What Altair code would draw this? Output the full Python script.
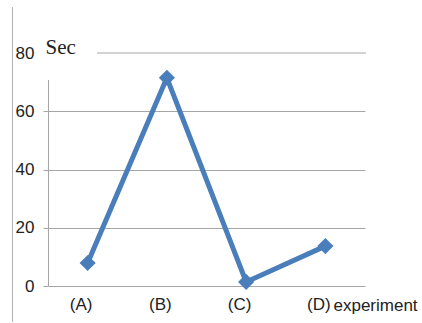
import altair as alt
import pandas as pd

categories = ["(A)", "(B)", "(C)", "(D)"]
values = [7.9, 71.5, 1.4, 13.7]
y_ticks = [0, 20, 40, 60, 80]
top_tick = [80]

df = pd.DataFrame({"cat": categories, "val": values})
top_df = pd.DataFrame({"v": top_tick})

GRID = "#a6a6a6"

x_enc = alt.X(
    "cat:N",
    sort=categories,
    scale=alt.Scale(paddingInner=0, paddingOuter=0),
    axis=alt.Axis(
        title="experiment",
        titleX=285,
        titleY=24,
        titleAlign="left",
        titleBaseline="alphabetic",
        titleFont="Liberation Sans",
        titleFontSize=17,
        titleFontWeight="normal",
        titleColor="#222222",
        labelAngle=0,
        labelFont="Liberation Sans",
        labelFontSize=17,
        labelColor="#222222",
        labelOffset=-7,
        labelPadding=10,
        domain=False,
        ticks=False,
        grid=False,
    ),
)
y_enc = alt.Y(
    "val:Q",
    scale=alt.Scale(domain=[0, 80], nice=False),
    axis=alt.Axis(
        values=y_ticks,
        title="Sec",
        titleAngle=0,
        titleX=-3,
        titleY=0,
        titleAlign="left",
        titleBaseline="alphabetic",
        titleFont="Liberation Serif",
        titleFontSize=21,
        titleFontWeight="normal",
        titleColor="#222222",
        labelFont="Liberation Sans",
        labelFontSize=17,
        labelColor="#222222",
        labelPadding=9,
        tickSize=5,
        tickColor=GRID,
        tickOpacity=alt.condition("datum.value === 80", alt.value(0), alt.value(1)),
        gridOpacity=alt.condition("datum.value === 80", alt.value(0), alt.value(1)),
        domain=False,
        gridColor=GRID,
        gridWidth=1,
    ),
)

base = alt.Chart(df)
line = base.mark_line(color="#4a7ebb", strokeWidth=5).encode(x=x_enc, y=y_enc)
pts = base.mark_point(shape="diamond", filled=True, size=260, color="#4a7ebb", opacity=1).encode(
    x=alt.X("cat:N", sort=categories), y="val:Q"
)
top_grid = alt.Chart(top_df).mark_rule(color=GRID, strokeWidth=1).encode(
    y="v:Q", x=alt.value(49), x2=alt.value(318)
)
y_domain = alt.Chart(top_df).mark_rule(color=GRID, strokeWidth=1).encode(
    x=alt.value(0.5), y=alt.value(27), y2=alt.value(233)
)
border = alt.Chart(top_df).mark_rule(color="#b0b0b0", strokeWidth=1).encode(
    x=alt.value(-35.5), y=alt.value(-46), y2=alt.value(269)
)

chart = (
    alt.layer(border, y_domain, top_grid, line, pts)
    .properties(
        width=317,
        height=233,
        autosize=alt.AutoSizeParams(type="none"),
        padding={"left": 48, "top": 53, "right": 57, "bottom": 37},
        background="white",
    )
    .configure_view(stroke=None)
)

chart.save("out.html", embed_options={"renderer": "svg", "actions": False})
